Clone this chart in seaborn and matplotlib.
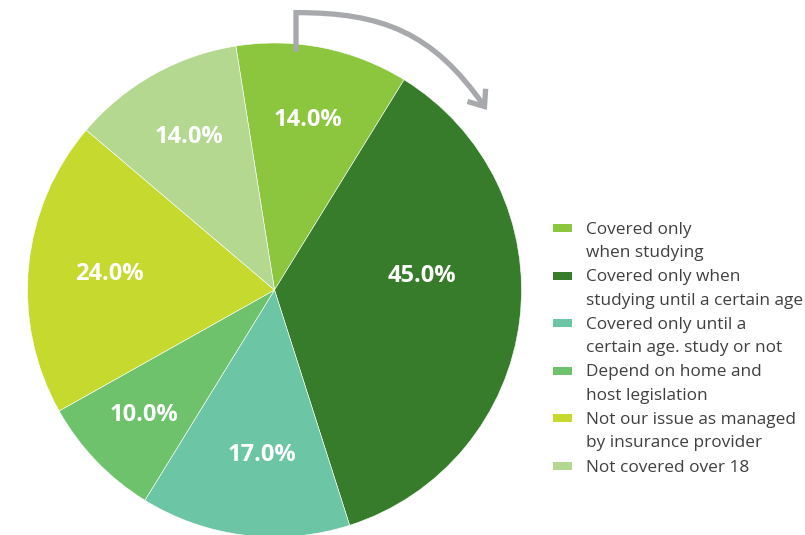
import matplotlib
matplotlib.use("Agg")
import numpy as np
import matplotlib.pyplot as plt
import seaborn as sns
from matplotlib.path import Path
from matplotlib.patches import FancyArrowPatch, Rectangle

categories = [
    "Covered only\nwhen studying",
    "Covered only when\nstudying until a certain age",
    "Covered only until a\ncertain age. study or not",
    "Depend on home and\nhost legislation",
    "Not our issue as managed\nby insurance provider",
    "Not covered over 18",
]
values = [14.0, 45.0, 17.0, 10.0, 24.0, 14.0]
colors = ["#8cc63f", "#367c2b", "#6cc5a5", "#6ec26c", "#c5d92f", "#b4d88f"]

# label placement (layout only): radial distance and angular nudge (deg)
label_r = [0.70, 0.60, 0.67, 0.73, 0.67, 0.71]
label_shift = [0.0, 12.4, 2.5, 0.0, 0.0, 0.0]

sns.set_theme(style="white")
plt.rcParams["font.family"] = ["Open Sans", "DejaVu Sans"]

W, H = 805, 535
fig = plt.figure(figsize=(W / 100, H / 100), dpi=100)
fig.patch.set_facecolor("white")

R = 247.0
cx, cy = 274.5, 290.0
lim = 1.25
side = 2 * lim * R
ax = fig.add_axes([(cx - side / 2) / W, (H - cy - side / 2) / H, side / W, side / H])

total = sum(values)
wedges, texts, autotexts = ax.pie(
    values,
    colors=colors,
    startangle=99,
    counterclock=False,
    autopct=lambda p: f"{p * total / 100:.1f}%",
    pctdistance=0.68,
    wedgeprops=dict(edgecolor="white", linewidth=0.4),
    textprops=dict(color="white", fontsize=17, fontweight="bold"),
)
for w, t, r, s in zip(wedges, autotexts, label_r, label_shift):
    ang = np.deg2rad((w.theta1 + w.theta2) / 2 + s)
    t.set_position((r * np.cos(ang), r * np.sin(ang)))

ax.set_xlim(-lim, lim)
ax.set_ylim(-lim, lim)
ax.set_aspect("auto")
ax.axis("off")

# arrow indicating reading direction
verts = [(0.087, 0.965), (0.087, 1.123), (0.437, 1.123), (0.64, 1.044), (0.86, 0.729)]
codes = [Path.MOVETO, Path.LINETO, Path.CURVE4, Path.CURVE4, Path.CURVE4]
arrow = FancyArrowPatch(
    path=Path(verts, codes),
    arrowstyle="->,head_length=0.5,head_width=0.4",
    mutation_scale=20,
    lw=3.8,
    color="#a7a9ac",
    joinstyle="miter",
    capstyle="butt",
    clip_on=False,
)
ax.add_patch(arrow)

# legend
x_box, box_w, box_h = 553, 19, 8
x_text = 586
y0, step, line_h = 229.5, 47.6, 23.5
for i, (lab, col) in enumerate(zip(categories, colors)):
    y = y0 + i * step
    fig.patches.append(Rectangle((x_box / W, 1 - (y - 1.5 + box_h / 2) / H), box_w / W, box_h / H,
                                 transform=fig.transFigure, facecolor=col, edgecolor="none"))
    for j, line in enumerate(lab.split("\n")):
        fig.text(x_text / W, 1 - (y + j * line_h) / H, line, ha="left", va="center",
                 fontsize=12.4, color="#404040")

fig.savefig("out.png", dpi=100)
